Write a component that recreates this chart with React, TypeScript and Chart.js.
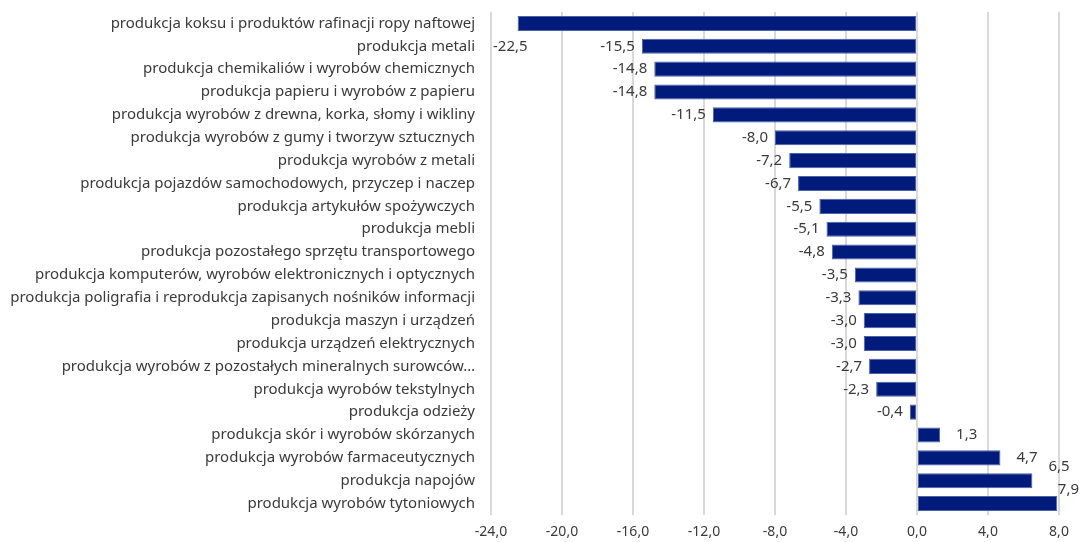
import React, { useEffect, useRef } from "react";
import { Chart, registerables } from "chart.js";

Chart.register(...registerables);

const categories: string[] = [
  "produkcja koksu i produktów rafinacji ropy naftowej",
  "produkcja metali",
  "produkcja chemikaliów i wyrobów chemicznych",
  "produkcja papieru i wyrobów z papieru",
  "produkcja wyrobów z drewna, korka, słomy i wikliny",
  "produkcja wyrobów z gumy i tworzyw sztucznych",
  "produkcja wyrobów z metali",
  "produkcja pojazdów samochodowych, przyczep i naczep",
  "produkcja artykułów spożywczych",
  "produkcja mebli",
  "produkcja pozostałego sprzętu transportowego",
  "produkcja komputerów, wyrobów elektronicznych i optycznych",
  "produkcja poligrafia i reprodukcja zapisanych nośników informacji",
  "produkcja maszyn i urządzeń",
  "produkcja urządzeń elektrycznych",
  "produkcja wyrobów z pozostałych mineralnych surowców…",
  "produkcja wyrobów tekstylnych",
  "produkcja odzieży",
  "produkcja skór i wyrobów skórzanych",
  "produkcja wyrobów farmaceutycznych",
  "produkcja napojów",
  "produkcja wyrobów tytoniowych",
];

const values: number[] = [
  -22.5, -15.5, -14.8, -14.8, -11.5, -8.0, -7.2, -6.7, -5.5, -5.1, -4.8, -3.5,
  -3.3, -3.0, -3.0, -2.7, -2.3, -0.4, 1.3, 4.7, 6.5, 7.9,
];

const xMin = -24;
const xMax = 8;
const xStep = 4;

const FONT = "'Noto Sans', sans-serif";
const TEXT_COLOR = "#3a3a3a";

const fmt = (v: number) => v.toFixed(1).replace(".", ",");

const labelPlugin = {
  id: "barValueLabels",
  afterDatasetsDraw(chart: any) {
    const ctx = chart.ctx;
    const area = chart.chartArea;
    const meta = chart.getDatasetMeta(0);
    const band = meta.data.length > 1 ? Math.abs(meta.data[1].y - meta.data[0].y) : 20;
    ctx.save();
    ctx.font = `15px ${FONT}`;
    ctx.fillStyle = TEXT_COLOR;
    ctx.textAlign = "left";
    ctx.textBaseline = "middle";
    meta.data.forEach((bar: any, i: number) => {
      const v = values[i];
      const txt = fmt(v);
      const w = ctx.measureText(txt).width;
      let tx: number;
      let ty = bar.y;
      if (v < 0) {
        tx = bar.x - 7 - w;
        if (tx < area.left) {
          tx = area.left + 2;
          ty = bar.y + band;
        }
      } else {
        tx = bar.x + 16;
        if (tx + w > area.right) {
          tx = Math.min(tx, chart.width - w - 1);
          ty = bar.y - 14;
        }
      }
      ctx.fillText(txt, tx, ty);
    });
    ctx.restore();
  },
};

export default function App() {
  const ref = useRef<HTMLCanvasElement | null>(null);

  useEffect(() => {
    document.body.style.margin = "0";
    if (!ref.current) return;
    const chart = new Chart(ref.current, {
      type: "bar",
      data: {
        labels: categories,
        datasets: [
          {
            data: values,
            backgroundColor: "#011b7c",
            borderColor: "#4a62a8",
            borderWidth: 1,
            borderSkipped: false,
            barPercentage: 0.66,
            categoryPercentage: 1,
          },
        ],
      },
      options: {
        indexAxis: "y",
        animation: false,
        responsive: false,
        maintainAspectRatio: false,
        layout: { padding: { top: 12, right: 21, bottom: 0, left: 0 } },
        plugins: {
          legend: { display: false },
          tooltip: { enabled: false },
        },
        scales: {
          x: {
            min: xMin,
            max: xMax,
            ticks: {
              stepSize: xStep,
              color: TEXT_COLOR,
              font: { family: FONT, size: 14 },
              padding: 9,
              callback: (v: any) => fmt(Number(v)),
            },
            grid: { color: "#d9d9d9", lineWidth: 2, drawTicks: false },
            border: { display: false },
            afterFit: (scale: any) => {
              scale.height = 27;
            },
          },
          y: {
            ticks: {
              color: TEXT_COLOR,
              font: { family: FONT, size: 15 },
              padding: 8,
              autoSkip: false,
            },
            grid: { display: false },
            border: { display: false },
            afterFit: (scale: any) => {
              scale.width = 491;
              scale.paddingTop = 0;
              scale.paddingBottom = 0;
            },
          },
        },
      },
      plugins: [labelPlugin],
    });
    return () => chart.destroy();
  }, []);

  return (
    <div style={{ position: "fixed", left: 0, top: 0, width: 1080, height: 542 }}>
      <canvas ref={ref} width={1080} height={542} style={{ width: 1080, height: 542 }} />
    </div>
  );
}
